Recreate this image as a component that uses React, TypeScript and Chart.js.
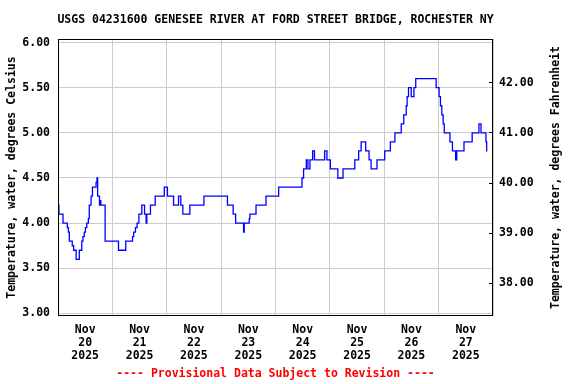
import { useEffect, useRef } from "react";
import { Chart, registerables } from "chart.js";

Chart.register(...registerables);

const chartTitle = "USGS 04231600 GENESEE RIVER AT FORD STREET BRIDGE, ROCHESTER NY";
const footerText = "---- Provisional Data Subject to Revision ----";
const leftAxisTitle = "Temperature, water, degrees Celsius";
const rightAxisTitle = "Temperature, water, degrees Fahrenheit";

// x axis: hours since Nov 20 2025 00:00
const xMinHours = 0;
const xMaxHours = 192;
const dayTickHours = [12, 36, 60, 84, 108, 132, 156, 180];
const dayLabels = [
  ["Nov", "20", "2025"],
  ["Nov", "21", "2025"],
  ["Nov", "22", "2025"],
  ["Nov", "23", "2025"],
  ["Nov", "24", "2025"],
  ["Nov", "25", "2025"],
  ["Nov", "26", "2025"],
  ["Nov", "27", "2025"],
];

const celsiusTicks = [3.0, 3.5, 4.0, 4.5, 5.0, 5.5, 6.0];
const fahrenheitTicks = [38, 39, 40, 41, 42];
const celsiusMin = 2.972;
const celsiusMax = 6.039;

// step-series change points: hour since start, water temperature (deg C)
const hours = [
  0, 0.4, 2.2, 4.1, 4.6, 5.0, 6.3, 6.9, 8.0, 9.4, 10.5, 11.0, 11.6, 12.1, 12.7, 13.4,
  13.8, 14.6, 15.2, 16.8, 17.2, 17.5, 18.3, 18.6, 18.9, 20.8, 26.7, 29.9, 32.9, 33.4,
  34.2, 34.9, 35.7, 37.0, 38.2, 38.9, 39.2, 40.8, 42.9, 46.9, 48.3, 51.0, 53.2, 54.2,
  55.1, 58.2, 64.4, 74.8, 77.3, 78.4, 81.9, 82.2, 84.4, 84.7, 87.4, 91.8, 97.4, 107.7,
  108.4, 109.6, 110.3, 111.2, 112.4, 113.2, 117.7, 118.7, 120.2, 123.5, 125.8, 131.0,
  132.7, 133.8, 135.8, 137.3, 138.2, 140.8, 144.2, 146.7, 148.7, 151.5, 152.6, 153.7,
  154.1, 154.7, 155.9, 157.1, 157.9, 166.9, 168.2, 168.8, 169.4, 170.0, 170.5, 173.0,
  174.1, 175.5, 176.0, 179.2, 182.8, 185.8, 186.7, 188.9, 189.2, 189.5,
];
const tempC = [
  4.2, 4.1, 4.0, 3.95, 3.9, 3.8, 3.75, 3.7, 3.6, 3.7, 3.8, 3.85, 3.9, 3.95, 4.0, 4.05,
  4.2, 4.3, 4.4, 4.45, 4.5, 4.3, 4.2, 4.25, 4.2, 3.8, 3.7, 3.8, 3.85, 3.9,
  3.95, 4.0, 4.1, 4.2, 4.1, 4.0, 4.1, 4.2, 4.3, 4.4, 4.3, 4.2, 4.3, 4.2,
  4.1, 4.2, 4.3, 4.2, 4.1, 4.0, 3.9, 4.0, 4.05, 4.1, 4.2, 4.3, 4.4, 4.5,
  4.6, 4.7, 4.6, 4.7, 4.8, 4.7, 4.8, 4.7, 4.6, 4.5, 4.6, 4.7,
  4.8, 4.9, 4.8, 4.7, 4.6, 4.7, 4.8, 4.9, 5.0, 5.1, 5.2, 5.3,
  5.4, 5.5, 5.4, 5.5, 5.6, 5.5, 5.4, 5.3, 5.2, 5.1, 5.0, 4.9,
  4.8, 4.7, 4.8, 4.9, 5.0, 5.1, 5.0, 4.9, 4.8, 4.8,
];

const FONT_FAMILY = "'DejaVu Sans Mono', monospace";
const FONT_SIZE = 11.5;
const FONT = `bold ${FONT_SIZE}px ${FONT_FAMILY}`;

const cToF = (c: number) => c * 1.8 + 32;

const decorPlugin = {
  id: "decor",
  afterDraw(chart: any) {
    const { ctx, chartArea: a } = chart;
    ctx.save();
    // frame
    ctx.strokeStyle = "#000000";
    ctx.lineWidth = 1;
    ctx.strokeRect(a.left + 0.5, a.top + 0.5, a.right - a.left - 1, a.bottom - a.top - 1);
    // inward tick marks on right axis
    const y1 = chart.scales.y1;
    ctx.beginPath();
    y1.ticks.forEach((t: any) => {
      const y = Math.round(y1.getPixelForValue(t.value) - 0.5) + 0.5;
      ctx.moveTo(a.right - 4, y);
      ctx.lineTo(a.right - 1, y);
    });
    ctx.stroke();
    // texts
    ctx.font = FONT;
    ctx.textAlign = "center";
    ctx.textBaseline = "middle";
    const cx = (a.left + a.right) / 2;
    const cy = (a.top + a.bottom) / 2;
    ctx.fillStyle = "#000000";
    ctx.fillText(chartTitle, cx, 20);
    ctx.fillStyle = "#ff0000";
    ctx.fillText(footerText, cx, 374.5);
    ctx.fillStyle = "#000000";
    ctx.save();
    ctx.translate(12.5, cy);
    ctx.rotate(-Math.PI / 2);
    ctx.fillText(leftAxisTitle, 0, 0);
    ctx.restore();
    ctx.save();
    ctx.translate(556, cy);
    ctx.rotate(-Math.PI / 2);
    ctx.fillText(rightAxisTitle, 0, 0);
    ctx.restore();
    ctx.restore();
  },
};

export default function App() {
  const canvasRef = useRef<HTMLCanvasElement | null>(null);

  useEffect(() => {
    document.body.style.margin = "0";
    const canvas = canvasRef.current;
    if (!canvas) return;
    const points = hours.map((h, i) => ({ x: h, y: tempC[i] }));
    const tickFont = { family: FONT_FAMILY, size: FONT_SIZE, weight: "bold" as const, lineHeight: 1.1 };

    const chart = new Chart(canvas, {
      type: "line",
      data: {
        datasets: [
          {
            data: points,
            borderColor: "#0000ff",
            borderWidth: 1.3,
            pointRadius: 0,
            stepped: true,
            fill: false,
            yAxisID: "y",
          },
        ],
      },
      plugins: [decorPlugin],
      options: {
        animation: false,
        responsive: false,
        devicePixelRatio: 1,
        layout: { padding: { top: 39, bottom: 0, left: 0, right: 0 } },
        plugins: {
          legend: { display: false },
          title: { display: false },
          tooltip: { enabled: false },
        },
        scales: {
          x: {
            type: "linear",
            min: xMinHours,
            max: xMaxHours,
            afterBuildTicks: (scale: any) => {
              scale.ticks = dayTickHours.map((v) => ({ value: v }));
            },
            afterFit: (scale: any) => {
              scale.height = 68;
            },
            grid: { color: "#cccccc", lineWidth: 1, offset: true, drawTicks: false },
            border: { display: false },
            ticks: {
              autoSkip: false,
              maxRotation: 0,
              minRotation: 0,
              padding: 8,
              color: "#000000",
              font: tickFont,
              callback: (value: any) => {
                const idx = dayTickHours.indexOf(Number(value));
                return idx >= 0 ? dayLabels[idx] : "";
              },
            },
          },
          y: {
            type: "linear",
            position: "left",
            min: celsiusMin,
            max: celsiusMax,
            afterBuildTicks: (scale: any) => {
              scale.ticks = celsiusTicks.map((v) => ({ value: v }));
            },
            afterFit: (scale: any) => {
              scale.width = 58;
            },
            grid: { color: "#cccccc", lineWidth: 1, drawTicks: false },
            border: { display: false },
            ticks: {
              padding: 8,
              color: "#000000",
              font: tickFont,
              callback: (value: any) => Number(value).toFixed(2),
            },
          },
          y1: {
            type: "linear",
            position: "right",
            min: cToF(celsiusMin),
            max: cToF(celsiusMax),
            afterBuildTicks: (scale: any) => {
              scale.ticks = fahrenheitTicks.map((v) => ({ value: v }));
            },
            afterFit: (scale: any) => {
              scale.width = 83;
            },
            grid: { drawOnChartArea: false, drawTicks: false },
            border: { display: false },
            ticks: {
              padding: 6,
              color: "#000000",
              font: tickFont,
              callback: (value: any) => Number(value).toFixed(2),
            },
          },
        },
      },
    } as any);

    return () => {
      chart.destroy();
    };
  }, []);

  return (
    <div style={{ position: "relative", width: 576, height: 384, background: "#ffffff" }}>
      <canvas ref={canvasRef} width={576} height={384} style={{ display: "block" }} />
    </div>
  );
}
